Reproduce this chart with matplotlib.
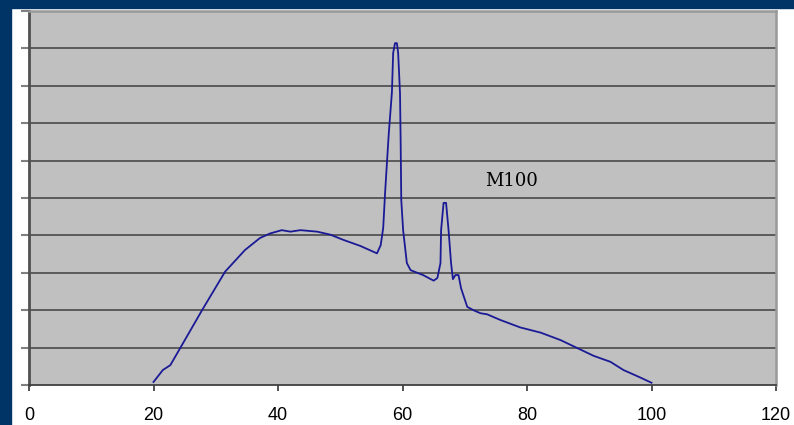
import matplotlib.pyplot as plt
from matplotlib.patches import Rectangle

# curve (x in axis units, y in grid units)
x_vals = [20, 21.5, 22.7, 24.3, 27.8, 31.5, 34.7, 37.1, 38.7, 40.6, 42, 43.6, 46.3,
          48.4, 50.5, 53.2, 55.9, 56.5, 56.9, 57.2, 57.5, 57.8, 58.0, 58.3, 58.5,
          58.8, 59.1, 59.3, 59.6, 59.7, 59.8, 60.1, 60.7, 61.3, 63.3, 65.0, 65.6,
          66.1, 66.2, 66.6, 67.0, 67.4, 67.8, 68.1, 68.5, 69.0, 69.4, 70.4, 71.4,
          72.5, 73.6, 75.7, 78.9, 82.2, 85.4, 87.8, 90.7, 93.4, 95.5, 98.2, 100]
y_vals = [0.08, 0.40, 0.53, 0.99, 2.0, 3.03, 3.61, 3.93, 4.05, 4.14, 4.1, 4.14, 4.1,
          4.02, 3.88, 3.72, 3.52, 3.74, 4.2, 5.13, 5.94, 6.74, 7.17, 7.83, 8.88,
          9.14, 9.14, 8.88, 7.8, 6.55, 4.95, 4.14, 3.26, 3.07, 2.94, 2.79, 2.86,
          3.26, 4.14, 4.87, 4.87, 4.14, 3.26, 2.83, 2.94, 2.94, 2.59, 2.09, 2.0,
          1.92, 1.89, 1.74, 1.54, 1.40, 1.20, 1.01, 0.78, 0.62, 0.40, 0.20, 0.06]
x_ticks = [0, 20, 40, 60, 80, 100, 120]
label = 'M100'

fig = plt.figure(figsize=(7.94, 4.25), dpi=100)
fig.patch.set_facecolor('white')

# navy frame on top and left
navy = '#003366'
fig.add_artist(Rectangle((0, 1 - 8 / 425), 1, 8 / 425, transform=fig.transFigure,
                         color=navy, zorder=0))
fig.add_artist(Rectangle((0, 0), 11 / 794, 1, transform=fig.transFigure,
                         color=navy, zorder=0))

ax = fig.add_axes([29 / 794, 40 / 425, 747 / 794, 374 / 425])
ax.set_facecolor('#c0c0c0')
ax.set_xlim(0, 120)
ax.set_ylim(0, 10)

for yy in range(1, 10):
    ax.axhline(yy, color='#4a4a4a', lw=1.2, zorder=1)

ax.plot(x_vals, y_vals, color='#1a1a96', lw=1.3, zorder=3)
ax.text(73.3, 5.45, label, family='DejaVu Serif', fontsize=13,
        va='center', ha='left', color='black')

ax.set_xticks(x_ticks)
ax.set_xticklabels([str(t) for t in x_ticks], family='Liberation Sans',
                   fontsize=13, color='black')
ax.set_yticks(range(0, 11))
ax.set_yticklabels([])
ax.tick_params(axis='x', direction='out', length=4.5, width=1.2,
               color='#333333', pad=11)
ax.tick_params(axis='y', direction='out', length=6, width=1.5, color='#808080')

ax.spines['left'].set_color('#505050')
ax.spines['left'].set_linewidth(2)
ax.spines['bottom'].set_color('#404040')
ax.spines['bottom'].set_linewidth(1.3)
ax.spines['top'].set_color('#999999')
ax.spines['top'].set_linewidth(1.8)
ax.spines['right'].set_color('#999999')
ax.spines['right'].set_linewidth(1.8)

fig.savefig('out.png', dpi=100)
